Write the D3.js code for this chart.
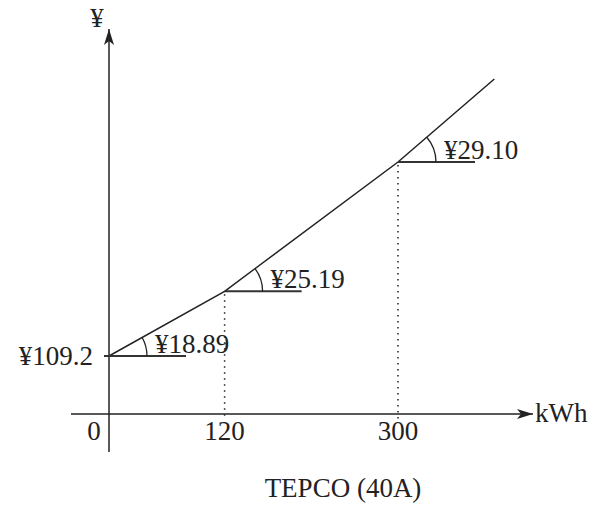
<!DOCTYPE html>
<html>
<head>
<meta charset="utf-8">
<script src="https://cdn.jsdelivr.net/npm/d3@7"></script>
<style>
  html, body { margin: 0; padding: 0; background: #fff; }
  svg text { font-family: "Liberation Serif", "Times New Roman", serif; fill: #222; }
</style>
</head>
<body>
<svg id="chart" width="591" height="506"></svg>
<script>
// TEPCO meter-rate lighting (40A): base charge plus three usage tiers
const baseCharge = 109.2;               // ¥ per month
const tierBreaks = [0, 120, 300, 400];  // kWh
const tierRates = [18.89, 25.19, 29.10]; // ¥ per kWh in each tier
const tickLabels = ["0", "120", "300"];
const xAxisLabel = "kWh";
const yAxisLabel = "¥";
const caption = "TEPCO (40A)";

// cumulative cost at each tier boundary
const costs = [baseCharge];
for (let i = 0; i < tierRates.length; i++) {
  costs.push(costs[i] + (tierBreaks[i + 1] - tierBreaks[i]) * tierRates[i]);
}
const points = tierBreaks.map((k, i) => ({ kwh: k, cost: costs[i] }));

const svg = d3.select("#chart");
const ink = "#222";

const x = d3.scaleLinear().domain([0, 300]).range([109, 398]);
// schematic vertical scale: base charge drawn enlarged, usage part compressed
const y = d3.scaleLinear()
  .domain([0, baseCharge, costs[costs.length - 1]])
  .range([414, 356, 79]);

// arrowhead
const defs = svg.append("defs");
defs.append("marker")
  .attr("id", "arrow")
  .attr("viewBox", "0 0 16 10")
  .attr("refX", 16).attr("refY", 5)
  .attr("markerWidth", 16).attr("markerHeight", 10)
  .attr("markerUnits", "userSpaceOnUse")
  .attr("orient", "auto")
  .append("path")
  .attr("d", "M0,0 L16,5 L0,10 L4,5 Z")
  .attr("fill", ink);

// axes
svg.append("line")
  .attr("x1", x(0) - 38).attr("x2", 533)
  .attr("y1", y(0)).attr("y2", y(0))
  .attr("stroke", ink).attr("stroke-width", 1.5)
  .attr("marker-end", "url(#arrow)");
svg.append("line")
  .attr("x1", x(0)).attr("x2", x(0))
  .attr("y1", 452).attr("y2", 29)
  .attr("stroke", ink).attr("stroke-width", 1.5)
  .attr("marker-end", "url(#arrow)");

// dotted guides from the tier boundaries down to the kWh axis
const inner = points.slice(1, 3);
svg.selectAll("line.guide").data(inner).join("line")
  .attr("class", "guide")
  .attr("x1", d => x(d.kwh)).attr("x2", d => x(d.kwh))
  .attr("y1", d => y(d.cost) + 3).attr("y2", y(0) + 5)
  .attr("stroke", ink).attr("stroke-width", 1.5)
  .attr("stroke-dasharray", "1.5 4.5");

// cost line
const line = d3.line().x(d => x(d.kwh)).y(d => y(d.cost));
svg.append("path")
  .datum(points)
  .attr("d", line)
  .attr("fill", "none")
  .attr("stroke", ink).attr("stroke-width", 1.5);

// horizontal references, angle arcs and rate labels at each tier start
const tiers = tierRates.map((r, i) => ({
  rate: r, from: points[i], to: points[i + 1]
}));
const hLen = 77, arcR = 38;

tiers.forEach((t, i) => {
  const cx = x(t.from.kwh), cy = y(t.from.cost);
  const theta = Math.atan2(cy - y(t.to.cost), x(t.to.kwh) - cx);
  svg.append("line")
    .attr("x1", i === 0 ? cx - 5 : cx).attr("x2", cx + hLen)
    .attr("y1", cy).attr("y2", cy)
    .attr("stroke", "#333").attr("stroke-width", 2);
  const p = d3.path();
  p.moveTo(cx + arcR, cy);
  p.arc(cx, cy, arcR, 0, -theta, true);
  svg.append("path").attr("d", p.toString())
    .attr("fill", "none").attr("stroke", ink).attr("stroke-width", 1.3);
  svg.append("text")
    .attr("x", cx + 46).attr("y", cy - 3)
    .attr("font-size", 27)
    .text("¥" + t.rate.toFixed(2));
});

// base charge label
svg.append("text")
  .attr("x", x(0) - 16).attr("y", y(baseCharge) + 9)
  .attr("text-anchor", "end").attr("font-size", 27)
  .text("¥" + baseCharge);

// kWh tick labels
const tickVals = [0, 120, 300];
svg.selectAll("text.tick").data(tickVals).join("text")
  .attr("class", "tick")
  .attr("x", (d, i) => i === 0 ? x(d) - 15 : x(d))
  .attr("y", 440)
  .attr("text-anchor", "middle").attr("font-size", 27)
  .text((d, i) => tickLabels[i]);

// axis titles and caption
svg.append("text").attr("x", 535).attr("y", 422)
  .attr("font-size", 27).text(xAxisLabel);
svg.append("text").attr("x", 97).attr("y", 27)
  .attr("text-anchor", "middle").attr("font-size", 27).text(yAxisLabel);
svg.append("text").attr("x", 343).attr("y", 497)
  .attr("text-anchor", "middle").attr("font-size", 27).text(caption);
</script>
</body>
</html>
